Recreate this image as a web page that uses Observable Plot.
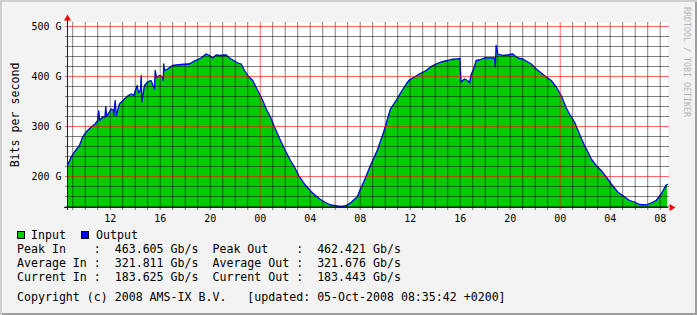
<!DOCTYPE html>
<html><head><meta charset="utf-8">
<script src="https://cdn.jsdelivr.net/npm/d3@7"></script>
<script src="https://cdn.jsdelivr.net/npm/@observablehq/plot@0.6"></script>
<style>
html,body{margin:0;padding:0;background:#F3F3F3;}
#wrap{position:relative;width:697px;height:315px;background:#F3F3F3;overflow:hidden;font-family:"DejaVu Sans Mono",monospace;color:#000;}
#wrap svg{position:absolute;left:0;top:0;background:transparent;}
.row{position:absolute;left:17px;white-space:pre;font-size:11.6px;line-height:14px;}
.sw{position:absolute;width:8px;height:8px;box-sizing:border-box;border:1px solid #000;}
#border{position:absolute;left:0;top:0;width:697px;height:315px;pointer-events:none;box-shadow:inset 2px 2px 0 #CFCFCF, inset -2px -2px 0 #9E9E9E;}
#wm{position:absolute;left:691px;top:7px;transform-origin:0 0;transform:rotate(90deg);font-size:8.3px;line-height:8px;color:#B5B5B5;white-space:pre;}
</style></head>
<body>
<div id="wrap"></div>
<script>
// time since window start (hours) and traffic in Gbit/s
const elapsedH = [0.00,0.30,0.56,0.96,1.22,1.50,1.90,2.22,2.42,2.50,2.58,2.82,3.00,3.06,3.14,3.50,3.64,3.70,3.82,3.90,4.16,4.56,4.88,5.10,5.30,5.58,5.68,5.84,5.90,5.94,6.16,6.42,6.68,6.96,7.02,7.12,7.36,7.60,7.66,7.70,7.76,8.02,8.42,9.10,9.76,10.16,10.70,11.10,11.36,11.62,11.90,12.16,12.70,12.96,13.36,13.62,13.90,14.16,14.42,14.82,15.22,15.62,15.90,16.24,16.56,17.04,17.36,17.84,18.16,18.50,18.96,19.44,19.84,20.24,20.64,21.04,21.58,21.92,22.24,22.64,23.18,23.44,23.70,23.98,24.24,24.78,25.30,25.84,26.30,26.70,27.10,27.36,27.76,28.16,28.70,29.10,29.50,29.90,30.42,30.70,31.22,31.40,31.48,31.76,32.02,32.16,32.30,32.50,32.70,32.96,33.36,33.76,34.16,34.22,34.30,34.42,34.82,35.22,35.62,36.02,36.42,36.82,37.10,37.50,37.90,38.30,38.70,39.10,39.50,39.90,40.16,40.56,40.96,41.36,41.58,41.90,42.30,42.70,43.10,43.50,44.02,44.42,44.96,45.36,45.76,46.30,46.70,47.10,47.50,47.90,48.00];
const inputG = [222,239,249,262,279,289,299,305,312,331,312,319,318,340,320,335,334,322,352,322,345,355,362,365,362,382,368,372,402,349,382,389,392,375,412,398,402,400,392,425,412,415,422,424,425,431,437,445,442,437,443,442,443,437,431,427,425,412,402,392,372,352,335,319,299,272,255,232,219,202,185,171,162,154,148,143,141,140,141,147,159,175,189,206,222,252,289,335,352,369,385,393,399,405,412,420,425,429,432,434,435,436,389,395,392,387,404,415,432,433,437,437,437,419,464,445,442,443,445,437,435,429,425,415,407,399,392,379,362,337,325,309,285,262,252,235,222,212,199,185,169,162,152,149,144,143,147,152,165,183,184];
const outputG = [222,239,249,262,279,289,299,305,312,331,312,319,318,340,320,335,334,322,352,322,345,355,362,365,362,382,368,372,402,349,382,389,392,375,412,398,402,400,392,425,412,415,422,424,425,431,437,445,442,437,443,442,443,437,431,427,425,412,402,392,372,352,335,319,299,272,255,232,219,202,185,171,162,154,148,143,141,140,141,147,159,175,189,206,222,252,289,335,352,369,385,393,399,405,412,420,425,429,432,434,435,436,389,395,392,387,404,415,432,433,437,437,437,419,462,445,442,443,445,437,435,429,425,415,407,399,392,379,362,337,325,309,285,262,252,235,222,212,199,185,169,162,152,149,144,143,147,152,165,183,184];

const windowStart = "2008-10-03T08:35:00Z";
const windowHours = 48;
const yDomain = [138, 508];
const yMajorTicks = [200, 300, 400, 500];
const yMinorTicks = [140, 160, 180, 220, 240, 260, 280, 320, 340, 360, 380, 420, 440, 460, 480];
const yTickUnit = " G";
const xLabelEveryHours = 4;
const yLabel = "Bits per second";

const seriesNames = ["Input", "Output"];
const seriesColors = ["#00CC00", "#0000FF"];
const inStatLabels = ["Peak In", "Average In", "Current In"];
const outStatLabels = ["Peak Out", "Average Out", "Current Out"];
const inStats = [463.605, 321.811, 183.625];
const outStats = [462.421, 321.676, 183.443];
const copyright = "Copyright (c) 2008 AMS-IX B.V.   [updated: 05-Oct-2008 08:35:42 +0200]";
const watermark = "RRDTOOL / TOBI OETIKER";

const start = new Date(windowStart);
const end = new Date(+start + windowHours * 3600e3);
const data = elapsedH.map((h, i) => ({t: new Date(+start + h * 3600e3), vin: inputG[i], vout: outputG[i]}));
const hours = d3.utcHour.range(d3.utcHour.ceil(start), end);
const midnights = hours.filter(d => d.getUTCHours() === 0);
const hourMinor = hours.filter(d => d.getUTCHours() !== 0);
const labelTicks = hours.filter(d => d.getUTCHours() % xLabelEveryHours === 0);
const gridCol = "#000", gridOp = 0.5, majCol = "#FF0000", majOp = 0.6;

const plot = Plot.plot({
  width: 697, height: 225,
  marginLeft: 67, marginRight: 30, marginTop: 22, marginBottom: 18,
  style: {background: "transparent", fontFamily: "DejaVu Sans Mono", fontSize: "10px", color: "#000", overflow: "visible"},
  x: {type: "utc", domain: [start, end]},
  y: {domain: yDomain},
  marks: [
    Plot.frame({fill: "white", stroke: null}),
    Plot.areaY(data, {x: "t", y1: yDomain[0], y2: "vin", fill: seriesColors[0]}),
    Plot.line(data, {x: "t", y: "vout", stroke: seriesColors[1], strokeWidth: 1.3}),
    Plot.gridY(yMinorTicks, {stroke: gridCol, strokeOpacity: gridOp, insetLeft: -2, insetRight: -2}),
    Plot.gridX(hourMinor, {stroke: gridCol, strokeOpacity: gridOp, insetBottom: -3}),
    Plot.gridY(yMajorTicks, {stroke: majCol, strokeOpacity: majOp, insetLeft: -2, insetRight: -2}),
    Plot.gridX(midnights, {stroke: majCol, strokeOpacity: majOp, insetBottom: -3}),
    Plot.ruleY([yDomain[0]], {stroke: "#202020", insetLeft: -3, insetRight: -1}),
    Plot.ruleX([start], {stroke: "#202020", insetTop: -3, insetBottom: -3}),
    Plot.dot([{t: end, v: yDomain[0]}], {x: "t", y: "v", symbol: "triangle", rotate: 90, r: 2.6, fill: "#FF0000", stroke: null, dx: 4}),
    Plot.dot([{t: start, v: yDomain[1]}], {x: "t", y: "v", symbol: "triangle", r: 2.6, fill: "#FF0000", stroke: null, dy: -4}),
    Plot.axisY(yMajorTicks, {tickSize: 0, tickPadding: 6, tickFormat: d => d + yTickUnit, label: null}),
    Plot.axisX(labelTicks, {tickSize: 0, tickPadding: 7, tickFormat: d3.utcFormat("%H"), label: null}),
    Plot.text([yLabel], {frameAnchor: "left", text: d => d, dx: -52, rotate: -90, fontSize: 11.6, textAnchor: "middle", lineAnchor: "middle"})
  ]
});

const wrap = document.getElementById("wrap");
wrap.appendChild(plot);

function addRow(text, top, left) {
  const el = document.createElement("div");
  el.className = "row";
  el.textContent = text;
  el.style.top = top + "px";
  if (left != null) el.style.left = left + "px";
  wrap.appendChild(el);
}
function addSwatch(color, left, top) {
  const el = document.createElement("div");
  el.className = "sw";
  el.style.background = color;
  el.style.left = left + "px";
  el.style.top = top + "px";
  wrap.appendChild(el);
}
addSwatch(seriesColors[0], 17, 231);
addRow(seriesNames[0], 228, 31);
addSwatch(seriesColors[1], 81, 231);
addRow(seriesNames[1], 228, 96);
const rowTops = [242.3, 256, 269.7];
inStatLabels.forEach((lab, i) => {
  const t = `${lab.padEnd(11)}:  ${inStats[i].toFixed(3)} Gb/s  ${outStatLabels[i].padEnd(12)}:  ${outStats[i].toFixed(3)} Gb/s`;
  addRow(t, rowTops[i]);
});
addRow(copyright, 289.7);

const wm = document.createElement("div");
wm.id = "wm";
wm.textContent = watermark;
wrap.appendChild(wm);
const border = document.createElement("div");
border.id = "border";
wrap.appendChild(border);
</script>
</body></html>
